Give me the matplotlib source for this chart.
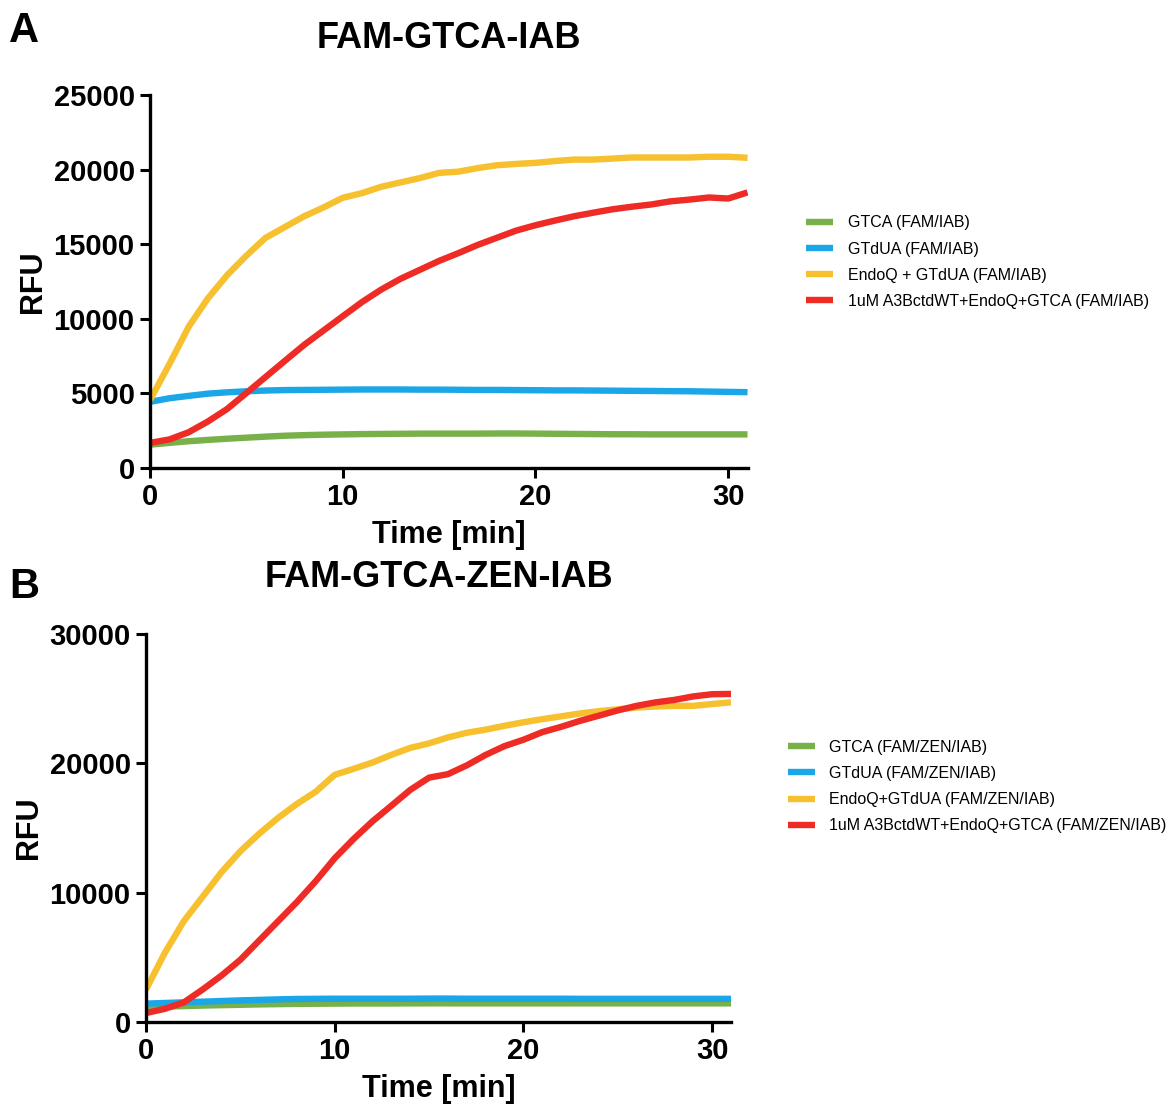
import matplotlib
matplotlib.use("Agg")
import matplotlib.pyplot as plt

plt.rcParams['font.family'] = ['Liberation Sans', 'DejaVu Sans']

time = list(range(0, 32))

# panel A: FAM-GTCA-IAB
a_gtca = [1560, 1680, 1790, 1880, 1960, 2030, 2100, 2160, 2200, 2230, 2250, 2270, 2280, 2290, 2300, 2300,
          2300, 2300, 2310, 2310, 2300, 2290, 2280, 2270, 2260, 2260, 2250, 2250, 2250, 2250, 2250, 2250]
a_gtdua = [4430, 4670, 4830, 4980, 5070, 5140, 5190, 5220, 5230, 5240, 5250, 5260, 5260, 5260, 5250, 5250,
           5240, 5230, 5230, 5220, 5210, 5200, 5200, 5190, 5180, 5170, 5160, 5150, 5140, 5120, 5100, 5080]
a_endoq = [4550, 6940, 9450, 11360, 12920, 14230, 15430, 16150, 16870, 17460, 18110, 18420, 18850, 19140, 19430, 19780,
           19860, 20100, 20290, 20380, 20450, 20570, 20670, 20670, 20740, 20810, 20810, 20810, 20810, 20860, 20860, 20790]
a_a3b = [1680, 1910, 2390, 3110, 3950, 5020, 6100, 7180, 8250, 9210, 10170, 11120, 11960, 12680, 13280, 13880,
         14400, 14950, 15430, 15910, 16270, 16580, 16870, 17110, 17340, 17510, 17660, 17870, 17990, 18130, 18060, 18470]

# panel B: FAM-GTCA-ZEN-IAB
b_gtca = [1160, 1200, 1240, 1280, 1310, 1340, 1370, 1390, 1410, 1420, 1430, 1440, 1440, 1440, 1450, 1450,
          1450, 1450, 1450, 1450, 1450, 1450, 1450, 1450, 1450, 1450, 1450, 1450, 1450, 1450, 1450, 1450]
b_gtdua = [1430, 1480, 1530, 1580, 1630, 1680, 1720, 1760, 1790, 1800, 1810, 1810, 1810, 1810, 1810, 1820,
           1820, 1810, 1810, 1810, 1810, 1810, 1810, 1800, 1800, 1800, 1800, 1800, 1800, 1800, 1800, 1800]
b_endoq = [2520, 5360, 7800, 9690, 11590, 13210, 14570, 15790, 16870, 17820, 19120, 19580, 20070, 20660, 21200, 21550,
           22010, 22370, 22610, 22910, 23180, 23420, 23640, 23860, 24040, 24180, 24320, 24400, 24450, 24450, 24590, 24720]
b_a3b = [700, 1030, 1520, 2520, 3600, 4820, 6310, 7800, 9290, 10910, 12670, 14160, 15520, 16730, 17950, 18900,
         19170, 19850, 20660, 21340, 21830, 22420, 22830, 23290, 23690, 24100, 24450, 24720, 24910, 25180, 25350, 25370]

labels_a = ["GTCA (FAM/IAB)", "GTdUA (FAM/IAB)", "EndoQ + GTdUA (FAM/IAB)",
            "1uM A3BctdWT+EndoQ+GTCA (FAM/IAB)"]
labels_b = ["GTCA (FAM/ZEN/IAB)", "GTdUA (FAM/ZEN/IAB)", "EndoQ+GTdUA (FAM/ZEN/IAB)",
            "1uM A3BctdWT+EndoQ+GTCA (FAM/ZEN/IAB)"]
colors = ["#78b04a", "#1ba6e8", "#f6c02e", "#ee2b25"]

fig = plt.figure(figsize=(11.68, 11.11), dpi=100)
ax_a = fig.add_axes([0.1284, 0.5788, 0.5116, 0.3357])
ax_b = fig.add_axes([0.1250, 0.0800, 0.5009, 0.3493])


def style(ax, series, labels, ymax, ystep, title, legend_pos):
    for ys, lab, c in zip(series, labels, colors):
        ax.plot(time, ys, color=c, lw=4.6, label=lab, solid_capstyle='butt')
    ax.set_xlim(0, 31)
    ax.set_ylim(0, ymax)
    ax.set_xticks([0, 10, 20, 30])
    ax.set_yticks(range(0, ymax + 1, ystep))
    for s in ['top', 'right']:
        ax.spines[s].set_visible(False)
    for s in ['left', 'bottom']:
        ax.spines[s].set_linewidth(2.4)
    ax.tick_params(width=2.2, length=7, labelsize=21, pad=4)
    for t in ax.get_xticklabels() + ax.get_yticklabels():
        t.set_fontweight('bold')
    ax.set_xlabel("Time [min]", fontsize=22, fontweight='bold', labelpad=6)
    ax.set_ylabel("RFU", fontsize=22, fontweight='bold', labelpad=4)
    ax.set_title(title, fontsize=26, fontweight='bold', pad=34)
    ax.legend(loc='center left', bbox_to_anchor=legend_pos, bbox_transform=fig.transFigure,
              frameon=False, fontsize=11.5, handlelength=1.7, handletextpad=0.9,
              labelspacing=0.7)


style(ax_a, [a_gtca, a_gtdua, a_endoq, a_a3b], labels_a, 25000, 5000, "FAM-GTCA-IAB", (0.678, 0.764))
style(ax_b, [b_gtca, b_gtdua, b_endoq, b_a3b], labels_b, 30000, 10000, "FAM-GTCA-ZEN-IAB", (0.662, 0.292))

fig.text(0.008, 0.972, "A", fontsize=30, fontweight='bold', va='center')
fig.text(0.008, 0.472, "B", fontsize=30, fontweight='bold', va='center')

fig.savefig("out.png", dpi=100)
